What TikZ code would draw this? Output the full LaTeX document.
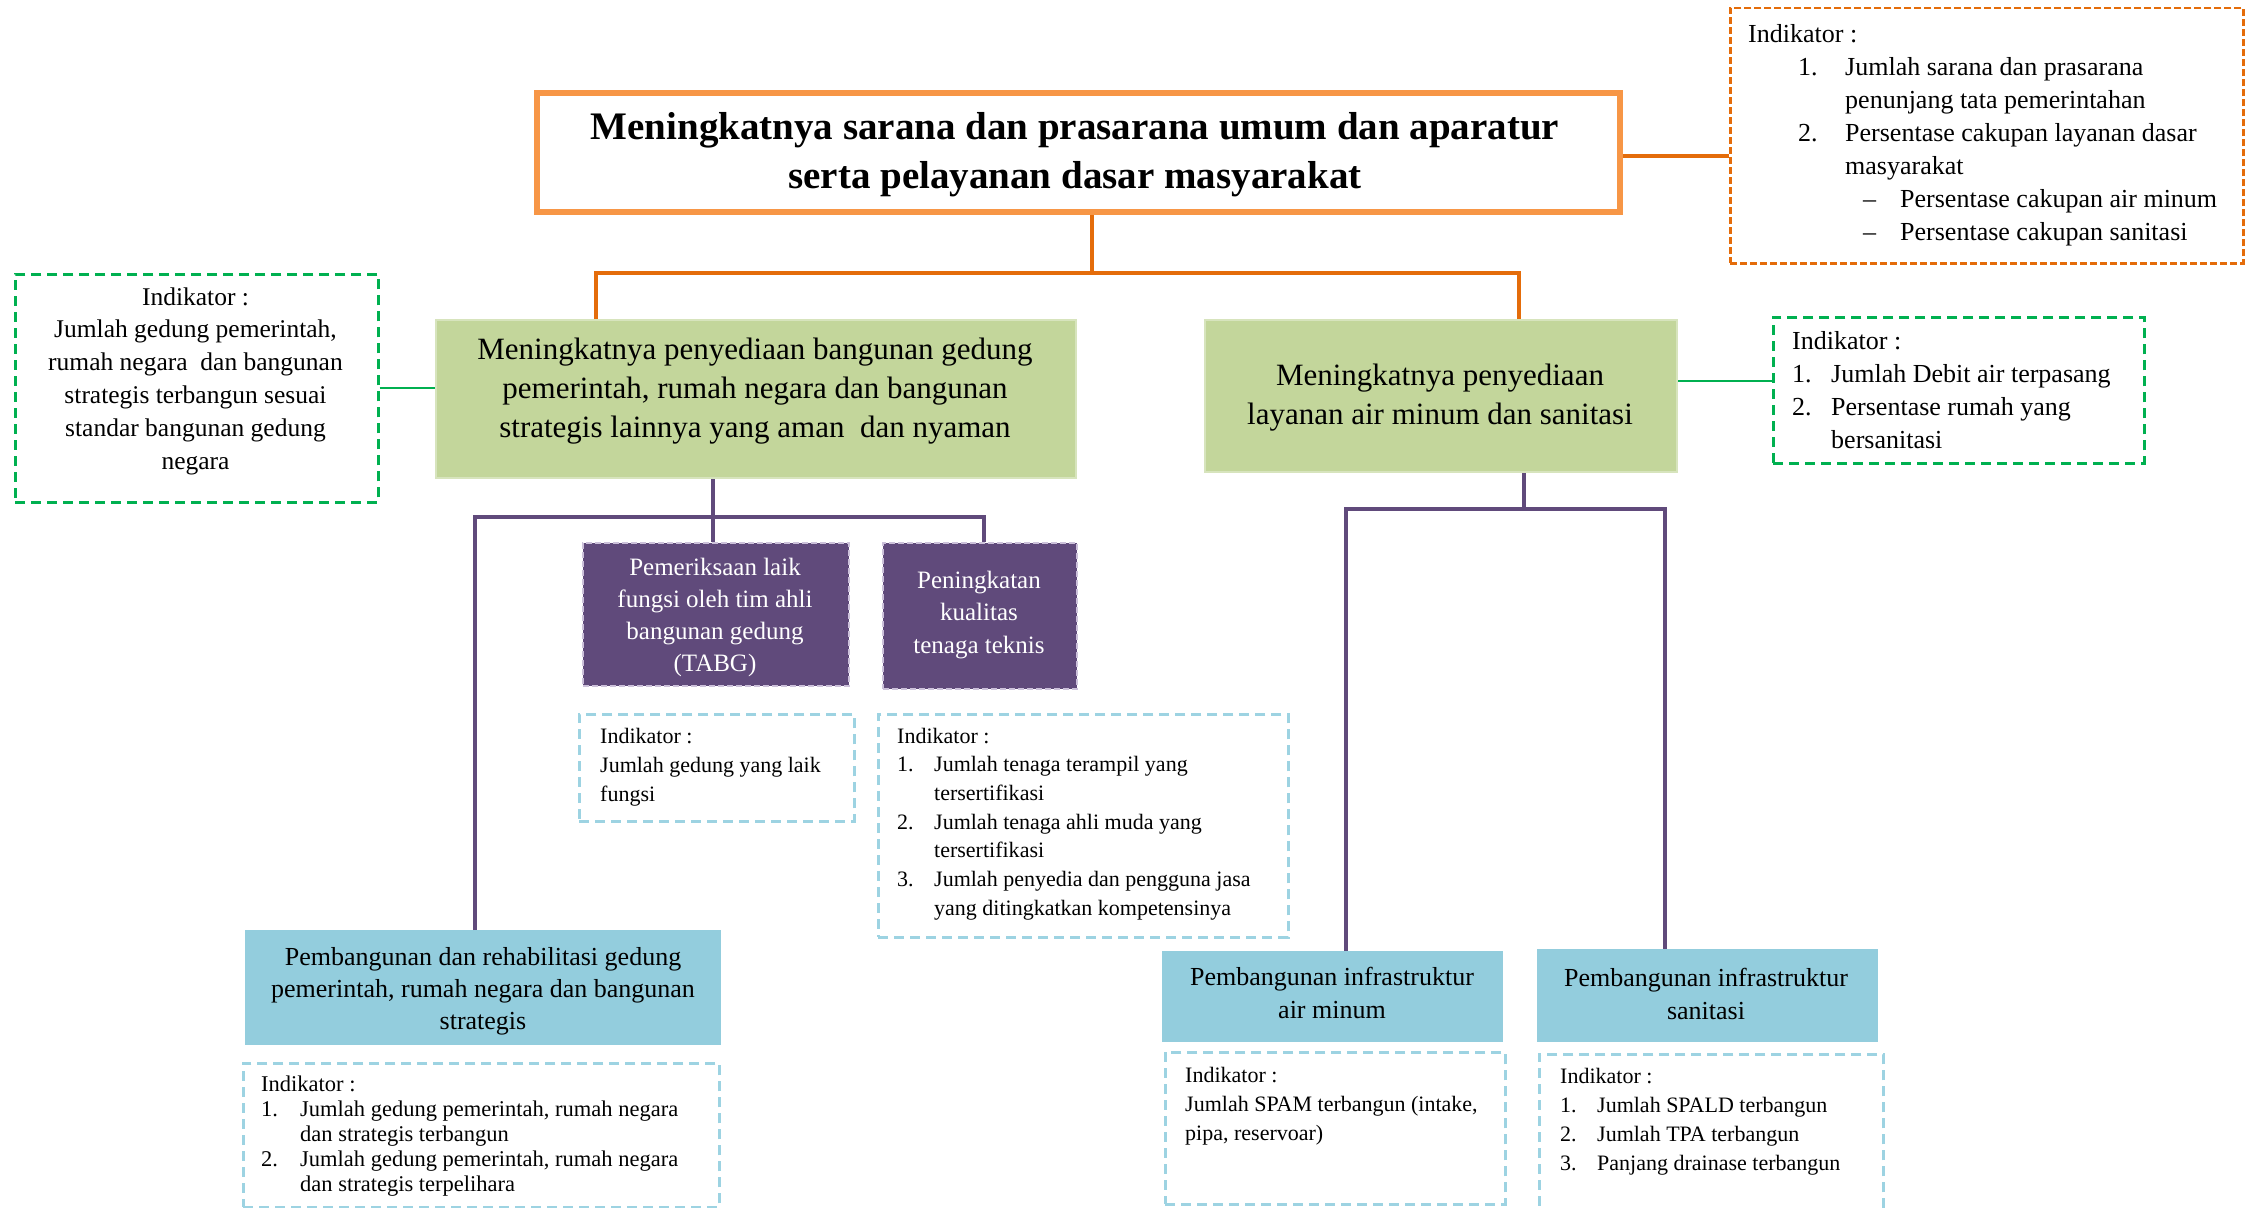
\documentclass[tikz,border=0pt]{standalone}
\usepackage{fontspec}
\setmainfont{Liberation Serif}
\definecolor{orBorder}{HTML}{F79646}
\definecolor{orLine}{HTML}{E46C0A}
\definecolor{grDash}{HTML}{00B050}
\definecolor{grFill}{HTML}{C3D69B}
\definecolor{grEdge}{HTML}{D7E4BD}
\definecolor{puFill}{HTML}{604A7B}
\definecolor{puEdge}{HTML}{CCC1DA}
\definecolor{blFill}{HTML}{93CDDD}
\definecolor{blDash}{HTML}{9DD3E2}
\newcommand{\nb}[2]{\makebox[#1][l]{#2}}
\begin{document}
\begin{tikzpicture}[x=1pt,y=-1pt,
  rbox/.style={rectangle, inner sep=0pt, anchor=north west},
  txt/.style={inner sep=0pt},
  orline/.style={draw=orLine, line width=3.5pt},
  puline/.style={draw=puFill, line width=4pt},
  grline/.style={draw=grDash, line width=2.5pt},
  ordash/.style={draw=orLine, line width=2.5pt, dash pattern=on 7pt off 3pt},
  grdash/.style={draw=grDash, line width=2.5pt, dash pattern=on 10pt off 6pt},
  bldash/.style={draw=blDash, line width=2.5pt, dash pattern=on 10pt off 6pt},
  greenbox/.style={rbox, fill=grFill, draw=grEdge, line width=2pt},
  purplebox/.style={rbox, fill=puFill, draw=puEdge, line width=2pt, dash pattern=on 6pt off 3pt},
  bluebox/.style={rbox, fill=blFill},
  f22/.style={font=\fontsize{22}{29.3}\selectfont},
  f26/.style={font=\fontsize{26}{33}\selectfont},
  f31/.style={font=\fontsize{31}{39}\selectfont},
]
\path[use as bounding box, fill=white] (0,0) rectangle (2250,1207);

% ---------- top level ----------
\node[rbox, draw=orBorder, line width=6pt, fill=white, minimum width=1083pt, minimum height=119pt] (top) at (534,90) {};
\node[txt, anchor=base, align=center, font=\fontsize{39}{49}\selectfont\bfseries] (toptxt) at (1075,188)
  {Meningkatnya sarana dan prasarana umum dan aparatur\\serta pelayanan dasar masyarakat};

\node[rbox, ordash, minimum width=513pt, minimum height=255pt] (indT) at (1729,7) {};
\node[txt, anchor=base west, align=left, f26] (indTtxt) at (1748,240)
  {Indikator :\\
   \hspace*{50pt}\nb{47pt}{1.}Jumlah sarana dan prasarana\\
   \hspace*{97pt}penunjang tata pemerintahan\\
   \hspace*{50pt}\nb{47pt}{2.}Persentase cakupan layanan dasar\\
   \hspace*{97pt}masyarakat\\
   \hspace*{115pt}\nb{37pt}{–}Persentase cakupan air minum\\
   \hspace*{115pt}\nb{37pt}{–}Persentase cakupan sanitasi};

% ---------- second level ----------
\node[greenbox, minimum width=640pt, minimum height=158pt] (g1) at (435,319) {};
\node[txt, anchor=base, align=center, f31] (g1txt) at (755,437)
  {Meningkatnya penyediaan bangunan gedung\\pemerintah, rumah negara dan bangunan\\strategis lainnya yang aman\ \ dan nyaman};

\node[greenbox, minimum width=472pt, minimum height=152pt] (g2) at (1204,319) {};
\node[txt, anchor=base, align=center, f31] (g2txt) at (1440,424)
  {Meningkatnya penyediaan\\layanan air minum dan sanitasi};

\node[rbox, grdash, minimum width=363pt, minimum height=228pt] (ind1) at (14,273) {};
\node[txt, anchor=base, align=center, font=\fontsize{25.5}{32.8}\selectfont] (ind1txt) at (195.5,469)
  {Indikator :\\Jumlah gedung pemerintah,\\rumah negara\ \ dan bangunan\\strategis terbangun sesuai\\standar bangunan gedung\\negara};

\node[rbox, grdash, minimum width=371pt, minimum height=146pt] (ind2) at (1772,316) {};
\node[txt, anchor=base west, align=left, f26] (ind2txt) at (1792,448)
  {Indikator :\\
   \nb{39pt}{1.}Jumlah Debit air terpasang\\
   \nb{39pt}{2.}Persentase rumah yang\\
   \hspace*{39pt}bersanitasi};

% ---------- connectors, upper ----------
\coordinate (oc) at (0,156);
\draw[orline] (top.east |- oc) -- (indT.west |- oc);
\coordinate (oj) at (1092,273);
\coordinate (ojL) at (596,273);
\coordinate (ojR) at (1519,273);
\draw[orline] (oj |- top.south) -- (oj);
\draw[orline] (ojL |- g1.north) -- (ojL) -- (ojR) -- (ojR |- g2.north);
\coordinate (gc1) at (0,388);
\draw[grline] (ind1.east |- gc1) -- (g1.west |- gc1);
\coordinate (gc2) at (0,381);
\draw[grline] (g2.east |- gc2) -- (ind2.west |- gc2);

% ---------- third level, left ----------
\node[purplebox, minimum width=266pt, minimum height=143pt] (p1) at (582,542) {};
\node[txt, anchor=base, align=center, font=\fontsize{25}{32}\selectfont, text=white] (p1txt) at (715,671)
  {Pemeriksaan laik\\fungsi oleh tim ahli\\bangunan gedung\\(TABG)};

\node[purplebox, minimum width=194pt, minimum height=146pt] (p2) at (882,542) {};
\node[txt, anchor=base, align=center, font=\fontsize{25}{32.5}\selectfont, text=white] (p2txt) at (979,653)
  {Peningkatan\\kualitas\\tenaga teknis};

\node[rbox, bldash, minimum width=275pt, minimum height=107pt] (ip1) at (578,713) {};
\node[txt, anchor=base west, align=left, f22] (ip1txt) at (600,801.6)
  {Indikator :\\Jumlah gedung yang laik\\fungsi};

\node[rbox, bldash, minimum width=410pt, minimum height=223pt] (ip2) at (877,713) {};
\node[txt, anchor=base west, align=left, font=\fontsize{22}{28.7}\selectfont] (ip2txt) at (897,915.2)
  {Indikator :\\
   \nb{37pt}{1.}Jumlah tenaga terampil yang\\
   \hspace*{37pt}tersertifikasi\\
   \nb{37pt}{2.}Jumlah tenaga ahli muda yang\\
   \hspace*{37pt}tersertifikasi\\
   \nb{37pt}{3.}Jumlah penyedia dan pengguna jasa\\
   \hspace*{37pt}yang ditingkatkan kompetensinya};

\node[bluebox, minimum width=476pt, minimum height=115pt] (b1) at (245,930) {};
\node[txt, anchor=base, align=center, font=\fontsize{26}{32.3}\selectfont] (b1txt) at (483,1029.6)
  {Pembangunan dan rehabilitasi gedung\\pemerintah, rumah negara dan bangunan\\strategis};

\node[rbox, bldash, minimum width=476pt, minimum height=144pt] (ib1) at (242,1062) {};
\node[txt, anchor=base west, align=left, font=\fontsize{22.5}{25.2}\selectfont] (ib1txt) at (261,1191.8)
  {Indikator :\\
   \nb{39pt}{1.}Jumlah gedung pemerintah, rumah negara\\
   \hspace*{39pt}dan strategis terbangun\\
   \nb{39pt}{2.}Jumlah gedung pemerintah, rumah negara\\
   \hspace*{39pt}dan strategis terpelihara};

% ---------- third level, right ----------
\node[bluebox, minimum width=341pt, minimum height=91pt] (b2) at (1162,951) {};
\node[txt, anchor=base, align=center, f26] (b2txt) at (1332,1018)
  {Pembangunan infrastruktur\\air minum};

\node[bluebox, minimum width=341pt, minimum height=93pt] (b3) at (1537,949) {};
\node[txt, anchor=base, align=center, f26] (b3txt) at (1706,1019)
  {Pembangunan infrastruktur\\sanitasi};

\node[rbox, bldash, minimum width=340pt, minimum height=152pt] (ib2) at (1164,1051) {};
\node[txt, anchor=base west, align=left, f22] (ib2txt) at (1185,1140.6)
  {Indikator :\\Jumlah SPAM terbangun (intake,\\pipa, reservoar)};

\node[rbox, bldash, minimum width=344pt, minimum height=162pt] (ib3) at (1538,1053) {};
\node[txt, anchor=base west, align=left, font=\fontsize{22}{29}\selectfont] (ib3txt) at (1560,1170)
  {Indikator :\\
   \nb{37pt}{1.}Jumlah SPALD terbangun\\
   \nb{37pt}{2.}Jumlah TPA terbangun\\
   \nb{37pt}{3.}Panjang drainase terbangun};

% ---------- purple connectors ----------
\coordinate (pjA) at (713,517);
\coordinate (pjL) at (475,517);
\coordinate (pjR) at (984,517);
\draw[puline] (pjA |- g1.south) -- (pjA);
\draw[puline] (pjL |- b1.north) -- (pjL) -- (pjR) -- (pjR |- p2.north);
\draw[puline] (pjA) -- (pjA |- p1.north);

\coordinate (qj) at (1524,509);
\coordinate (qjL) at (1346,509);
\coordinate (qjR) at (1665,509);
\draw[puline] (qj |- g2.south) -- (qj);
\draw[puline] (qjL |- b2.north) -- (qjL) -- (qjR) -- (qjR |- b3.north);
\end{tikzpicture}
\end{document}
